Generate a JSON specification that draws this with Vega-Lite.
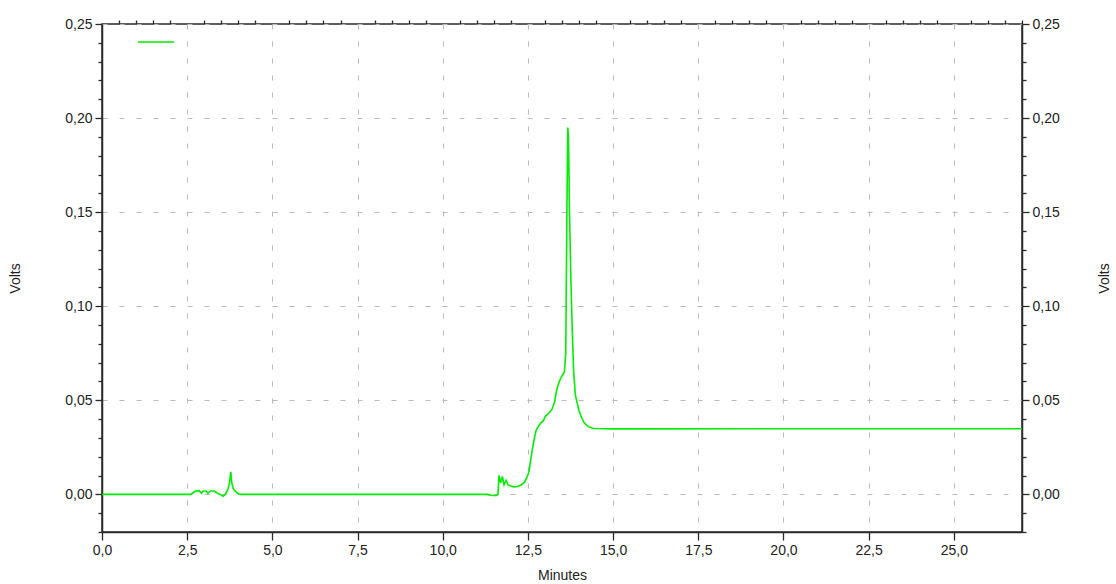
{
  "$schema": "https://vega.github.io/schema/vega-lite/v6.json",
  "width": 920,
  "height": 508,
  "autosize": {"type": "none"},
  "padding": {"left": 102, "top": 24, "right": 94, "bottom": 52},
  "background": "white",
  "config": {
    "font": "Liberation Sans",
    "view": {"stroke": "#2a2a2a", "strokeWidth": 1.5},
    "axis": {
      "labelFont": "Liberation Sans",
      "titleFont": "Liberation Sans",
      "labelFontSize": 14,
      "titleFontSize": 14,
      "titleFontWeight": "normal",
      "labelColor": "#222",
      "titleColor": "#222",
      "domainColor": "#2a2a2a",
      "domainWidth": 1.5,
      "tickColor": "#2a2a2a",
      "tickWidth": 1.3,
      "gridColor": "#bbbbbb",
      "gridDash": [5, 12],
      "gridWidth": 1
    }
  },
  "data": {
    "values": [
      {"t": 0.0, "v": 0.0, "s": "trace"},
      {"t": 2.6, "v": 0.0, "s": "trace"},
      {"t": 2.68, "v": 0.001, "s": "trace"},
      {"t": 2.75, "v": 0.0018, "s": "trace"},
      {"t": 2.85, "v": 0.002, "s": "trace"},
      {"t": 2.92, "v": 0.0006, "s": "trace"},
      {"t": 2.97, "v": 0.0018, "s": "trace"},
      {"t": 3.06, "v": 0.0018, "s": "trace"},
      {"t": 3.11, "v": 0.0006, "s": "trace"},
      {"t": 3.18, "v": 0.0018, "s": "trace"},
      {"t": 3.3, "v": 0.0018, "s": "trace"},
      {"t": 3.4, "v": 0.0005, "s": "trace"},
      {"t": 3.47, "v": 0.0, "s": "trace"},
      {"t": 3.55, "v": -0.001, "s": "trace"},
      {"t": 3.62, "v": 0.0, "s": "trace"},
      {"t": 3.7, "v": 0.003, "s": "trace"},
      {"t": 3.75, "v": 0.007, "s": "trace"},
      {"t": 3.78, "v": 0.012, "s": "trace"},
      {"t": 3.81, "v": 0.006, "s": "trace"},
      {"t": 3.85, "v": 0.003, "s": "trace"},
      {"t": 3.9, "v": 0.002, "s": "trace"},
      {"t": 3.98, "v": 0.0005, "s": "trace"},
      {"t": 4.05, "v": 0.0, "s": "trace"},
      {"t": 11.3, "v": 0.0, "s": "trace"},
      {"t": 11.45, "v": -0.0006, "s": "trace"},
      {"t": 11.58, "v": -0.0006, "s": "trace"},
      {"t": 11.62, "v": 0.0, "s": "trace"},
      {"t": 11.65, "v": 0.010, "s": "trace"},
      {"t": 11.7, "v": 0.0062, "s": "trace"},
      {"t": 11.75, "v": 0.0095, "s": "trace"},
      {"t": 11.8, "v": 0.005, "s": "trace"},
      {"t": 11.86, "v": 0.0075, "s": "trace"},
      {"t": 11.92, "v": 0.005, "s": "trace"},
      {"t": 12.0, "v": 0.0045, "s": "trace"},
      {"t": 12.1, "v": 0.004, "s": "trace"},
      {"t": 12.2, "v": 0.0042, "s": "trace"},
      {"t": 12.3, "v": 0.005, "s": "trace"},
      {"t": 12.4, "v": 0.0065, "s": "trace"},
      {"t": 12.47, "v": 0.009, "s": "trace"},
      {"t": 12.53, "v": 0.012, "s": "trace"},
      {"t": 12.58, "v": 0.018, "s": "trace"},
      {"t": 12.63, "v": 0.024, "s": "trace"},
      {"t": 12.68, "v": 0.029, "s": "trace"},
      {"t": 12.74, "v": 0.034, "s": "trace"},
      {"t": 12.82, "v": 0.0365, "s": "trace"},
      {"t": 12.88, "v": 0.038, "s": "trace"},
      {"t": 12.95, "v": 0.039, "s": "trace"},
      {"t": 13.01, "v": 0.0415, "s": "trace"},
      {"t": 13.1, "v": 0.043, "s": "trace"},
      {"t": 13.2, "v": 0.045, "s": "trace"},
      {"t": 13.28, "v": 0.049, "s": "trace"},
      {"t": 13.35, "v": 0.056, "s": "trace"},
      {"t": 13.42, "v": 0.06, "s": "trace"},
      {"t": 13.5, "v": 0.063, "s": "trace"},
      {"t": 13.57, "v": 0.065, "s": "trace"},
      {"t": 13.61, "v": 0.075, "s": "trace"},
      {"t": 13.63, "v": 0.12, "s": "trace"},
      {"t": 13.655, "v": 0.17, "s": "trace"},
      {"t": 13.67, "v": 0.195, "s": "trace"},
      {"t": 13.69, "v": 0.19, "s": "trace"},
      {"t": 13.72, "v": 0.15, "s": "trace"},
      {"t": 13.76, "v": 0.115, "s": "trace"},
      {"t": 13.8, "v": 0.088, "s": "trace"},
      {"t": 13.84, "v": 0.066, "s": "trace"},
      {"t": 13.89, "v": 0.053, "s": "trace"},
      {"t": 13.99, "v": 0.045, "s": "trace"},
      {"t": 14.07, "v": 0.041, "s": "trace"},
      {"t": 14.15, "v": 0.038, "s": "trace"},
      {"t": 14.27, "v": 0.036, "s": "trace"},
      {"t": 14.43, "v": 0.035, "s": "trace"},
      {"t": 15.0, "v": 0.0348, "s": "trace"},
      {"t": 20.0, "v": 0.0349, "s": "trace"},
      {"t": 27.0, "v": 0.0349, "s": "trace"}
    ]
  },
  "resolve": {"axis": {"x": "independent", "y": "independent"}},
  "layer": [
    {
      "mark": {"type": "line", "strokeWidth": 1.6, "interpolate": "linear", "clip": true},
      "encoding": {
        "x": {
          "field": "t", "type": "quantitative",
          "scale": {"domain": [0, 27], "nice": false, "zero": false},
          "axis": {
            "values": [0, 2.5, 5, 7.5, 10, 12.5, 15, 17.5, 20, 22.5, 25],
            "format": ".1f",
            "labelExpr": "replace(datum.label, '.', ',')",
            "title": "Minutes",
            "titleX": 460, "titleY": 47, "titleBaseline": "alphabetic",
            "tickSize": 8, "labelPadding": 3,
            "grid": true, "labelFlush": false
          }
        },
        "y": {
          "field": "v", "type": "quantitative",
          "scale": {"domain": [-0.02, 0.25], "nice": false, "zero": false},
          "axis": {
            "values": [0, 0.05, 0.1, 0.15, 0.2, 0.25],
            "format": ".2f",
            "labelExpr": "replace(datum.label, '.', ',')",
            "title": "Volts",
            "titleX": -87, "titleY": 254, "titleAngle": 270, "titleBaseline": "middle", "titleAlign": "center",
            "tickSize": 7, "labelPadding": 3,
            "grid": true
          }
        },
        "color": {
          "field": "s", "type": "nominal",
          "scale": {"range": ["#00ee00"]},
          "legend": {
            "orient": "none", "legendX": 35, "legendY": -1,
            "title": null, "padding": 0,
            "symbolType": "stroke", "symbolSize": 1296, "symbolStrokeWidth": 1.6,
            "labelExpr": "''", "labelFontSize": 1
          }
        }
      }
    },
    {
      "mark": {"type": "line", "strokeOpacity": 0},
      "encoding": {
        "x": {
          "field": "t", "type": "quantitative",
          "scale": {"domain": [0, 27], "nice": false, "zero": false},
          "axis": {
            "values": [0.5, 1, 1.5, 2, 3, 3.5, 4, 4.5, 5.5, 6, 6.5, 7, 8, 8.5, 9, 9.5, 10.5, 11, 11.5, 12, 13, 13.5, 14, 14.5, 15.5, 16, 16.5, 17, 18, 18.5, 19, 19.5, 20.5, 21, 21.5, 22, 23, 23.5, 24, 24.5, 25.5, 26, 26.5, 27],
            "labels": false, "domain": false, "grid": false, "tickSize": 4, "title": null
          }
        },
        "y": {
          "field": "v", "type": "quantitative",
          "scale": {"domain": [-0.02, 0.25], "nice": false, "zero": false},
          "axis": {
            "orient": "right",
            "values": [0, 0.05, 0.1, 0.15, 0.2, 0.25],
            "format": ".2f",
            "labelExpr": "replace(datum.label, '.', ',')",
            "title": "Volts",
            "titleX": 82, "titleY": 254, "titleAngle": 270, "titleBaseline": "middle", "titleAlign": "center",
            "tickSize": 7, "labelPadding": 3, "grid": false
          }
        }
      }
    },
    {
      "mark": {"type": "line", "strokeOpacity": 0},
      "encoding": {
        "x": {"field": "t", "type": "quantitative", "scale": {"domain": [0, 27], "nice": false, "zero": false}, "axis": null},
        "y": {
          "field": "v", "type": "quantitative",
          "scale": {"domain": [-0.02, 0.25], "nice": false, "zero": false},
          "axis": {
            "values": [-0.02, -0.01, 0.01, 0.02, 0.03, 0.04, 0.06, 0.07, 0.08, 0.09, 0.11, 0.12, 0.13, 0.14, 0.16, 0.17, 0.18, 0.19, 0.21, 0.22, 0.23, 0.24],
            "labels": false, "domain": false, "grid": false, "tickSize": 4, "title": null
          }
        }
      }
    },
    {
      "mark": {"type": "line", "strokeOpacity": 0},
      "encoding": {
        "x": {"field": "t", "type": "quantitative", "scale": {"domain": [0, 27], "nice": false, "zero": false}, "axis": null},
        "y": {
          "field": "v", "type": "quantitative",
          "scale": {"domain": [-0.02, 0.25], "nice": false, "zero": false},
          "axis": {
            "orient": "right",
            "values": [-0.02, -0.01, 0.01, 0.02, 0.03, 0.04, 0.06, 0.07, 0.08, 0.09, 0.11, 0.12, 0.13, 0.14, 0.16, 0.17, 0.18, 0.19, 0.21, 0.22, 0.23, 0.24],
            "labels": false, "domain": false, "grid": false, "tickSize": 4, "title": null
          }
        }
      }
    }
  ]
}
